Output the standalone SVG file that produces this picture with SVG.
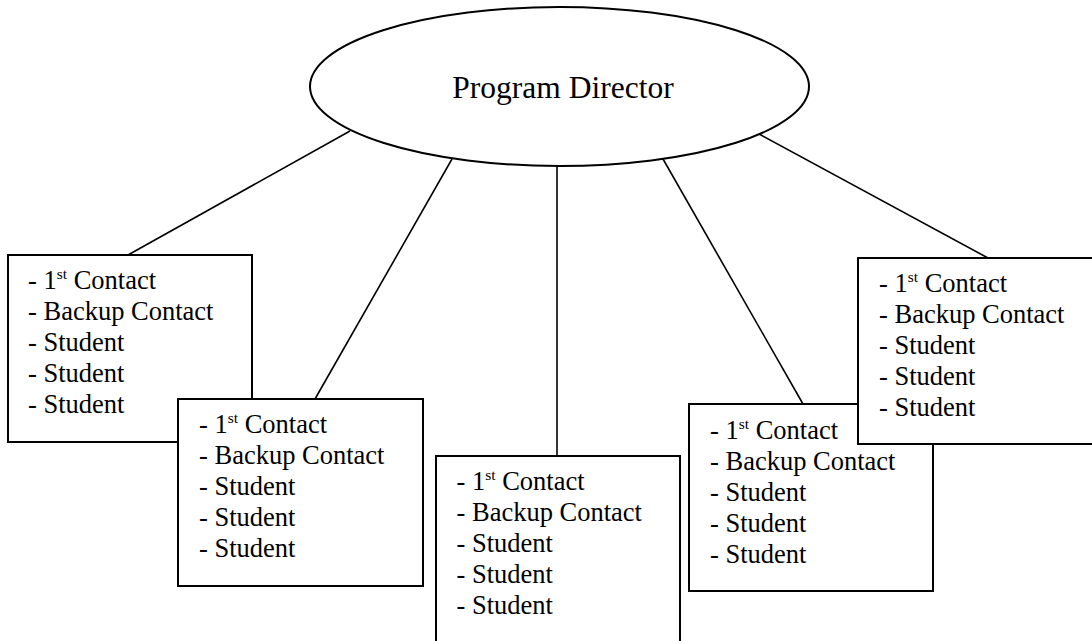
<svg xmlns="http://www.w3.org/2000/svg" width="1092" height="641" viewBox="0 0 1092 641">
<style>
.shape{fill:#fff;stroke:#000;stroke-width:2}
.conn line{stroke:#000;stroke-width:1.6}
text{font-family:"Liberation Serif","Times New Roman",serif;fill:#000}
.t{font-size:26.5px}
.sup{font-size:15.5px}
.title{font-size:31.5px}
</style>
<rect width="1092" height="641" fill="#fff"/>
<g class="conn" id="connectors">
<line x1="350" y1="131" x2="128" y2="255"/>
<line x1="452" y1="159" x2="315" y2="399"/>
<line x1="557" y1="166" x2="557" y2="456"/>
<line x1="663" y1="159" x2="803" y2="404"/>
<line x1="759" y1="134" x2="988" y2="258"/>
</g>
<g id="director">
<ellipse class="shape" cx="559.5" cy="86.5" rx="249.5" ry="79.5"/>
<text class="title" x="563" y="98" text-anchor="middle">Program Director</text>
</g>
<g id="group1">
<rect class="shape" x="8" y="255" width="244" height="187"/>
<text class="t" x="28" y="289">- 1<tspan class="sup" dy="-10">st</tspan><tspan dy="10"> Contact</tspan></text>
<text class="t" x="28" y="320">- Backup Contact</text>
<text class="t" x="28" y="351">- Student</text>
<text class="t" x="28" y="382">- Student</text>
<text class="t" x="28" y="413">- Student</text>
</g>
<g id="group2">
<rect class="shape" x="178" y="399" width="245" height="187"/>
<text class="t" x="199" y="433">- 1<tspan class="sup" dy="-10">st</tspan><tspan dy="10"> Contact</tspan></text>
<text class="t" x="199" y="464">- Backup Contact</text>
<text class="t" x="199" y="495">- Student</text>
<text class="t" x="199" y="526">- Student</text>
<text class="t" x="199" y="557">- Student</text>
</g>
<g id="group3">
<rect class="shape" x="436" y="456" width="244" height="190"/>
<text class="t" x="456.5" y="490">- 1<tspan class="sup" dy="-10">st</tspan><tspan dy="10"> Contact</tspan></text>
<text class="t" x="456.5" y="521">- Backup Contact</text>
<text class="t" x="456.5" y="552">- Student</text>
<text class="t" x="456.5" y="583">- Student</text>
<text class="t" x="456.5" y="614">- Student</text>
</g>
<g id="group4">
<rect class="shape" x="689" y="404" width="244" height="187"/>
<text class="t" x="710" y="439">- 1<tspan class="sup" dy="-10">st</tspan><tspan dy="10"> Contact</tspan></text>
<text class="t" x="710" y="470">- Backup Contact</text>
<text class="t" x="710" y="501">- Student</text>
<text class="t" x="710" y="532">- Student</text>
<text class="t" x="710" y="563">- Student</text>
</g>
<g id="group5">
<rect class="shape" x="858" y="258" width="244" height="186"/>
<text class="t" x="879" y="292">- 1<tspan class="sup" dy="-10">st</tspan><tspan dy="10"> Contact</tspan></text>
<text class="t" x="879" y="323">- Backup Contact</text>
<text class="t" x="879" y="354">- Student</text>
<text class="t" x="879" y="385">- Student</text>
<text class="t" x="879" y="416">- Student</text>
</g>
</svg>
